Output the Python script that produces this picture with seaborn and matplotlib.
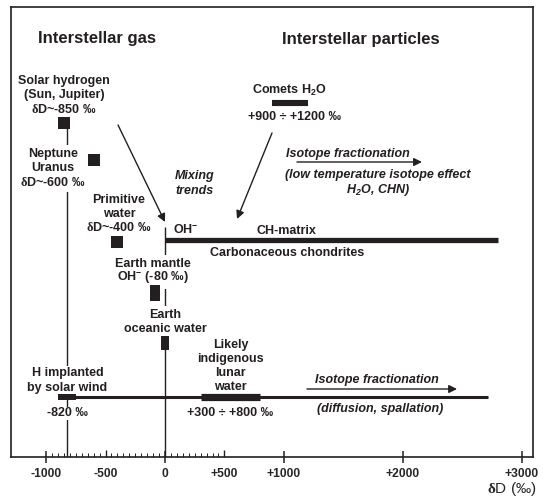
import numpy as np
import pandas as pd
import matplotlib
matplotlib.use("Agg")
import matplotlib.pyplot as plt
from matplotlib.ticker import FuncFormatter
import seaborn as sns

# --- Data (deltaD, permil) ---------------------------------------------
square_names = ["Solar hydrogen", "Neptune, Uranus", "Primitive water"]
square_dD = [-850, -600, -400]

mantle_dD = [-80]          # Earth mantle OH-
ocean_dD = [0]             # Earth oceanic water (SMOW)
implanted_dD = [-820]      # H implanted by solar wind

comets_range = [900, 1200]       # comets H2O
lunar_range = [300, 800]         # likely indigenous lunar water
chondrite_span = [0, 2800]       # carbonaceous chondrites, OH- to CH-matrix
lunar_trend_span = [-820, 2720]  # fractionation trend of lunar H

tick_values = [-1000, 0, 1000, 2000, 3000]
tick_labels = ["-1000", "0", "+1000", "+2000", "+3000"]
minor_labels = {-500: "-500", 500: "+500"}

# --- Layout: vertical row of each item (top = 7, baseline = 457) -------
ROW = {"square": [123, 159.5, 242], "mantle": 293, "ocean": 343,
       "implanted": 397, "comets": 102.5, "chondrite": 239.5, "lunar": 397}
LINE_STEP = 14.3   # spacing between label lines

INK = "#231f20"

sns.set_style("white")
plt.rcParams["font.family"] = ["Liberation Sans", "DejaVu Sans"]
plt.rcParams["font.weight"] = "bold"
plt.rcParams["mathtext.fontset"] = "custom"
plt.rcParams["mathtext.rm"] = "Liberation Serif"
plt.rcParams["mathtext.default"] = "regular"
plt.rcParams["text.color"] = INK

fig = plt.figure(figsize=(5.51, 4.99), dpi=100)
ax = fig.add_axes([11 / 551, 1 - 457 / 499, 522 / 551, 450 / 499])
ax.set_xlim(-1295, 3095)
ax.set_ylim(457, 7)

# connecting vertical guides (drawn beneath the labels)
ax.vlines(implanted_dD[0], ROW["square"][0], 457, color=INK, lw=1.0, zorder=1)
ax.vlines(ocean_dD[0], 227, 457, color=INK, lw=1.0, zorder=1)

# range bars and trend lines
ax.hlines(ROW["chondrite"], *chondrite_span, color=INK, lw=3.8, capstyle="butt", zorder=4.5)
ax.hlines(ROW["lunar"], *lunar_trend_span, color=INK, lw=2.2, capstyle="butt", zorder=4.5)
ax.hlines(ROW["lunar"], *lunar_range, color=INK, lw=5.2, capstyle="butt", zorder=4.6)
ax.hlines(ROW["comets"], *comets_range, color=INK, lw=4.4, capstyle="butt", zorder=4.5)


# point markers
def rect(w, h):
    return [(-w / 2, -h / 2), (w / 2, -h / 2), (w / 2, h / 2), (-w / 2, h / 2), (-w / 2, -h / 2)]


sq = pd.DataFrame({"dD": square_dD, "row": ROW["square"], "name": square_names})
sns.scatterplot(data=sq, x="dD", y="row", marker="s", s=82, color=INK, linewidth=0,
                ax=ax, zorder=5, legend=False)
sns.scatterplot(x=mantle_dD, y=[ROW["mantle"]], marker=rect(9, 16), s=133, color=INK,
                linewidth=0, ax=ax, zorder=5)
sns.scatterplot(x=ocean_dD, y=[ROW["ocean"]], marker=rect(8, 14), s=102, color=INK,
                linewidth=0, ax=ax, zorder=5)
sns.scatterplot(x=implanted_dD, y=[ROW["implanted"]], marker=rect(19, 7), s=187, color=INK,
                linewidth=0, ax=ax, zorder=5)


def label(x, y, text, size=9, pad=None, **kw):
    """Centered block of lines; y is the visual centre of the block."""
    lines = text.split("\n")
    n = len(lines)
    if pad is None:
        pad = 2.0 if n > 1 else 0.3
    kw.setdefault("ha", "center")
    cap = 0.716 * size * 100 / 72
    for i, ln in enumerate(lines):
        yc = y + (i - (n - 1) / 2) * LINE_STEP
        ax.text(x, yc + cap / 2, ln, va="baseline", fontsize=size, zorder=4,
                bbox=dict(fc="white", ec="none", pad=pad), **kw)


D = r"$\mathrm{\delta}$"
label(-572, 37, "Interstellar gas", size=12)
label(1648, 38, "Interstellar particles", size=12)

label(square_dD[0], 94, f"Solar hydrogen\n(Sun, Jupiter)\n{D}D~-850 ‰")
label(-942, 167, f"Neptune\nUranus\n{D}D~-600 ‰")
label(-387, 212.5, f"Primitive\nwater\n{D}D~-400 ‰")
label(252, 182, "Mixing\ntrends", style="italic", pad=0.3)
label(67, 230, "OH$^{-}$", ha="left")
label(1018, 230, "CH-matrix")
label(1026, 252, "Carbonaceous chondrites")
label(-101, 269.5, "Earth mantle\nOH$^{-}$ (-80 ‰)")
label(ocean_dD[0], 320.5, "Earth\noceanic water")
label(np.mean(lunar_range), 364.5, "Likely\nindigenous\nlunar\nwater", pad=1.0)
label(implanted_dD[0], 379, "H implanted\nby solar wind", pad=1.0)
label(implanted_dD[0], 412, "-820 ‰")
label(np.mean(lunar_range), 412, "+300 ÷ +800 ‰")
label(np.mean(comets_range), 89, "Comets H$_2$O")
label(1090, 116, "+900 ÷ +1200 ‰")
label(1539, 153, "Isotope fractionation", style="italic")
label(1791, 181, "(low temperature isotope effect\nH$_2$O, CHN)", style="italic", pad=0.3)
label(1783, 379, "Isotope fractionation", style="italic")
label(1808, 408, "(diffusion, spallation)", style="italic")

# arrows
arrow = dict(arrowstyle="-|>", color=INK, lw=1.0, mutation_scale=12, shrinkA=0, shrinkB=0)
ax.annotate("", xy=(0, 222), xytext=(-395, 125), arrowprops=arrow, zorder=6)
ax.annotate("", xy=(606, 219), xytext=(900, 133), arrowprops=arrow, zorder=6)
ax.annotate("", xy=(2161, 162), xytext=(1110, 162), arrowprops=arrow, zorder=6)
ax.annotate("", xy=(2456, 389), xytext=(1194, 389), arrowprops=arrow, zorder=6)

# axis styling
for sp in ax.spines.values():
    sp.set_visible(True)
    sp.set_color(INK)
    sp.set_linewidth(1.2)
ax.set_yticks([])
ax.set_ylabel("")
ax.set_xticks(tick_values, tick_labels)
minor_vals = [v for v in range(-950, 501, 50) if v != 0]
ax.set_xticks(minor_vals, minor=True)
ax.xaxis.set_minor_formatter(FuncFormatter(lambda v, p: minor_labels.get(int(round(v)), "")))
ax.tick_params(axis="x", which="major", direction="inout", length=8.6, width=1.1,
               pad=3.6, labelsize=8.7, color=INK, bottom=True)
ax.tick_params(axis="x", which="minor", direction="in", length=3.0, width=0.7,
               pad=7.9, labelsize=8.7, color=INK, bottom=True)
for t, v in zip(ax.xaxis.get_minor_ticks(), minor_vals):
    if abs(v) == 500:
        t.tick1line.set_markersize(5.0)
        t.tick1line.set_markeredgewidth(1.0)

ax.set_xlabel(f"{D}D (‰)", fontsize=11)
ax.xaxis.set_label_coords((537 - 11) / 522, (457 - 489) / 450)
ax.xaxis.label.set_ha("right")
ax.xaxis.label.set_va("center")

fig.savefig("out.png", dpi=100, facecolor="white")
